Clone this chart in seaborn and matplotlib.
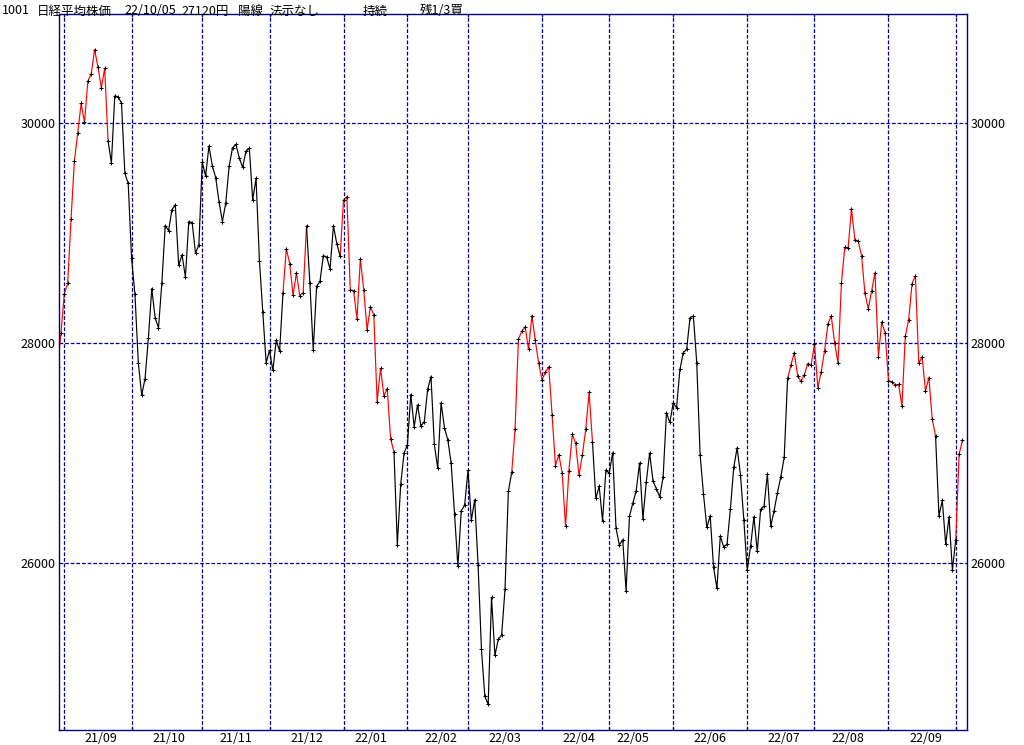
import numpy as np
import pandas as pd
import matplotlib
matplotlib.use("Agg")
import matplotlib.pyplot as plt
import seaborn as sns

# ---------------- data (daily closes, yen) ----------------
aug21 = [27789, 28090]
sep21 = [28451, 28544, 29128, 29660, 29916, 30181, 30008, 30382, 30447, 30670,
         30512, 30323, 30500, 29840, 29639, 30249, 30240, 30184, 29544, 29453]
oct21 = [28771, 28445, 27822, 27529, 27678, 28049, 28498, 28231, 28140, 28551,
         29069, 29025, 29216, 29256, 28709, 28805, 28600, 29106, 29098, 28820, 28893]
nov21 = [29647, 29521, 29794, 29612, 29507, 29285, 29107, 29278, 29610, 29777,
         29808, 29688, 29599, 29746, 29774, 29303, 29499, 28752, 28284, 27822]
dec21 = [27936, 27753, 28030, 27927, 28456, 28861, 28725, 28438, 28640, 28433,
         28460, 29066, 28546, 27938, 28518, 28562, 28798, 28783, 28676, 29069, 28907, 28792]
jan22 = [29302, 29332, 28488, 28479, 28222, 28766, 28489, 28124, 28334, 28257,
         27467, 27773, 27522, 27588, 27131, 27011, 26170, 26717, 27002]
feb22 = [27078, 27534, 27241, 27440, 27249, 27285, 27580, 27696, 27080, 26865,
         27460, 27233, 27122, 26911, 26450, 25971, 26477, 26527]
mar22 = [26845, 26393, 26577, 25985, 25221, 24791, 24718, 25690, 25163, 25308,
         25346, 25762, 26653, 26827, 27224, 28040, 28110, 28150, 27944, 28252, 28027, 27821]
apr22 = [27666, 27736, 27788, 27350, 26889, 26986, 26822, 26335, 26843, 27172,
         27093, 26800, 26985, 27218, 27553, 27105, 26591, 26700, 26387, 26848]
may22 = [26819, 27004, 26319, 26167, 26214, 25749, 26428, 26547, 26660, 26911,
         26403, 26739, 27002, 26748, 26678, 26605, 26782, 27369, 27280]
jun22 = [27458, 27414, 27762, 27916, 27944, 28234, 28247, 27824, 26987, 26630,
         26326, 26431, 25963, 25771, 26246, 26150, 26171, 26492, 26871, 27049, 26805, 26393]
jul22 = [25936, 26154, 26423, 26108, 26491, 26517, 26812, 26337, 26479, 26643,
         26788, 26962, 27680, 27803, 27915, 27699, 27655, 27716, 27815, 27802]
aug22 = [27993, 27595, 27742, 27932, 28176, 28249, 28000, 27819, 28547, 28872,
         28869, 29223, 28942, 28930, 28795, 28453, 28313, 28479, 28641, 27879, 28196, 28092]
sep22 = [27661, 27651, 27620, 27627, 27430, 28065, 28215, 28542, 28615, 27819,
         27876, 27568, 27688, 27313, 27154, 26432, 26572, 26174, 26422, 25937]
oct22 = [26216, 26992, 27121]

month_labels = ["21/09", "21/10", "21/11", "21/12", "22/01", "22/02", "22/03",
                "22/04", "22/05", "22/06", "22/07", "22/08", "22/09"]

jp_holidays = ["2021-09-20", "2021-09-23", "2021-11-03", "2021-11-23", "2021-12-31",
               "2022-01-03", "2022-01-10", "2022-02-11", "2022-02-23", "2022-03-21",
               "2022-04-29", "2022-05-03", "2022-05-04", "2022-05-05", "2022-07-18",
               "2022-08-11", "2022-09-19", "2022-09-23"]

# line colour state per segment (run lengths)
seg_color_runs = [("red", 15), ("black", 52), ("red", 7), ("black", 10), ("red", 16),
                  ("black", 35), ("red", 24), ("black", 58), ("red", 44), ("black", 6),
                  ("red", 2)]

y_ticks = [26000, 28000, 30000]
title_parts = [("1001", 2), ("日経平均株価", 37), ("22/10/05", 124),
               ("27120円", 181), ("陽線", 238), ("法示なし", 270),
               ("持続", 363), ("残1/3買", 420)]

# ---------------- prepare ----------------
closes = np.concatenate([aug21, sep21, oct21, nov21, dec21, jan22, feb22, mar22,
                         apr22, may22, jun22, jul22, aug22, sep22, oct22]).astype(float)
n = len(closes)
dates = pd.bdate_range("2021-08-30", "2022-10-05", freq="C", holidays=jp_holidays)[:n]
xi = np.arange(n)

rows = []
start = 0
for r, (c, cnt) in enumerate(seg_color_runs):
    for i in range(start, min(start + cnt, n - 1) + 1):
        rows.append(dict(x=i, close=closes[i], color=c, run=r))
    start += cnt
seg_df = pd.DataFrame(rows)
pts_df = pd.DataFrame(dict(x=xi, close=closes))

months = np.array([d.year * 100 + d.month for d in dates])
month_starts = [i for i in range(1, n) if months[i] != months[i - 1]]
label_pos = []
for m in sorted(set(months))[1:-1]:
    idx = [i for i in range(n) if months[i] == m and dates[i].day >= 16]
    label_pos.append(idx[0])

# ---------------- draw ----------------
sns.set_theme(style="white")
plt.rcParams['font.family'] = ['Noto Sans CJK JP', 'DejaVu Sans']
navy = "#000080"

W, H = 1024, 745
fig = plt.figure(figsize=(W / 100, H / 100), dpi=100)
fig.patch.set_facecolor("white")
ax = fig.add_axes([58.7 / W, 1 - 730 / H, (966.8 - 58.7) / W, (730 - 14.3) / H])
ax.set_facecolor("white")

dash = (0, (3.0, 1.5))
for yv in y_ticks:
    ax.axhline(yv, color=navy, lw=0.9, ls=dash, zorder=1)
for xv in month_starts:
    ax.axvline(xv, color=navy, lw=0.9, ls=dash, zorder=1)

sns.lineplot(data=seg_df, x="x", y="close", hue="color", units="run",
             estimator=None, sort=False, palette={"red": "#ff0000", "black": "#000000"},
             legend=False, lw=0.85, ax=ax, zorder=2)
sns.scatterplot(data=pts_df, x="x", y="close", marker="+", s=12, color="black",
                linewidth=0.75, ax=ax, zorder=3)

ax.set_xlim(0.333, 270.28)
ax.set_ylim(24484.5, 30990.9)
ax.set_xlabel("")
ax.set_ylabel("")

for s in ax.spines.values():
    s.set_color(navy)
    s.set_linewidth(1.0)
    s.set_visible(True)

ax.set_yticks(y_ticks)
ax.set_yticklabels([str(v) for v in y_ticks])
ax.tick_params(axis="y", which="both", left=False, right=False, length=0,
               labelleft=True, labelright=True, pad=2.5, labelsize=9, labelcolor="black")

ax.set_xticks(month_starts)
ax.set_xticklabels([])
ax.set_xticks(label_pos, minor=True)
ax.set_xticklabels(month_labels, minor=True)
ax.tick_params(axis="x", which="major", direction="in", length=2.5, width=0.9,
               color=navy, top=True, bottom=True)
ax.tick_params(axis="x", which="minor", length=0, pad=1.5, labelsize=9, labelcolor="black")

for txt, px in title_parts:
    fig.text(px / W, 1 - 14.5 / H, txt, ha="left", va="baseline", fontsize=9, color="black")

fig.savefig("out.png", dpi=100, facecolor="white")
